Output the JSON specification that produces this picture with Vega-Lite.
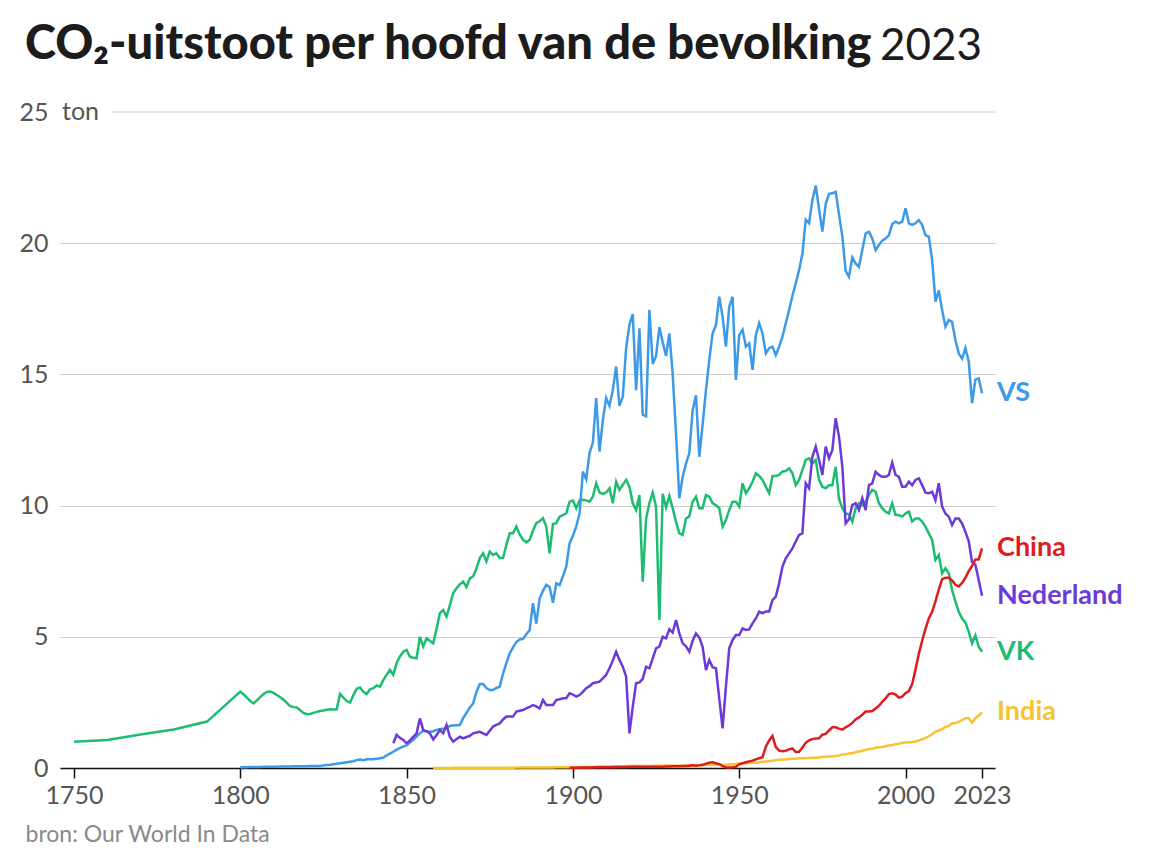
{
  "$schema": "https://vega.github.io/schema/vega-lite/v6.json",
  "width": 935,
  "height": 656,
  "autosize": "none",
  "padding": {"left": 60, "top": 112, "right": 157, "bottom": 96},
  "background": "white",
  "title": {
    "text": "CO₂-uitstoot per hoofd van de bevolking",
    "anchor": "start",
    "frame": "group",
    "dx": -35,
    "offset": -81,
    "baseline": "alphabetic",
    "font": "Lato",
    "fontSize": 47,
    "fontWeight": 900,
    "color": "#1c1c1c"
  },
  "config": {
    "view": {"stroke": null},
    "font": "Lato"
  },
  "datasets": {
    "emissies": [
      {"j":1750,"VK":1.0},
      {"j":1760,"VK":1.07},
      {"j":1770,"VK":1.28},
      {"j":1780,"VK":1.47},
      {"j":1790,"VK":1.77},
      {"j":1800,"VK":2.91,"VS":0.03},
      {"j":1801,"VK":2.80,"VS":0.03},
      {"j":1802,"VK":2.68,"VS":0.03},
      {"j":1803,"VK":2.55,"VS":0.04},
      {"j":1804,"VK":2.46,"VS":0.04},
      {"j":1805,"VK":2.58,"VS":0.04},
      {"j":1806,"VK":2.70,"VS":0.04},
      {"j":1807,"VK":2.82,"VS":0.05},
      {"j":1808,"VK":2.90,"VS":0.05},
      {"j":1809,"VK":2.91,"VS":0.05},
      {"j":1810,"VK":2.86,"VS":0.05},
      {"j":1811,"VK":2.78,"VS":0.05},
      {"j":1812,"VK":2.70,"VS":0.06},
      {"j":1813,"VK":2.60,"VS":0.06},
      {"j":1814,"VK":2.48,"VS":0.06},
      {"j":1815,"VK":2.36,"VS":0.06},
      {"j":1816,"VK":2.32,"VS":0.07},
      {"j":1817,"VK":2.31,"VS":0.07},
      {"j":1818,"VK":2.20,"VS":0.07},
      {"j":1819,"VK":2.10,"VS":0.07},
      {"j":1820,"VK":2.05,"VS":0.07},
      {"j":1821,"VK":2.06,"VS":0.08},
      {"j":1822,"VK":2.10,"VS":0.08},
      {"j":1823,"VK":2.14,"VS":0.08},
      {"j":1824,"VK":2.17,"VS":0.08},
      {"j":1825,"VK":2.19,"VS":0.10},
      {"j":1826,"VK":2.22,"VS":0.11},
      {"j":1827,"VK":2.24,"VS":0.12},
      {"j":1828,"VK":2.23,"VS":0.14},
      {"j":1829,"VK":2.24,"VS":0.16},
      {"j":1830,"VK":2.82,"VS":0.18},
      {"j":1831,"VK":2.68,"VS":0.20},
      {"j":1832,"VK":2.55,"VS":0.22},
      {"j":1833,"VK":2.49,"VS":0.24},
      {"j":1834,"VK":2.78,"VS":0.26},
      {"j":1835,"VK":3.02,"VS":0.30},
      {"j":1836,"VK":3.07,"VS":0.32},
      {"j":1837,"VK":2.90,"VS":0.30},
      {"j":1838,"VK":2.82,"VS":0.33},
      {"j":1839,"VK":3.00,"VS":0.33},
      {"j":1840,"VK":3.04,"VS":0.33},
      {"j":1841,"VK":3.15,"VS":0.35},
      {"j":1842,"VK":3.10,"VS":0.37},
      {"j":1843,"VK":3.35,"VS":0.40},
      {"j":1844,"VK":3.55,"VS":0.48},
      {"j":1845,"VK":3.74,"VS":0.55},
      {"j":1846,"VK":3.55,"VS":0.62,"Nederland":0.94},
      {"j":1847,"VK":4.00,"VS":0.70,"Nederland":1.26},
      {"j":1848,"VK":4.25,"VS":0.76,"Nederland":1.15},
      {"j":1849,"VK":4.43,"VS":0.82,"Nederland":1.07},
      {"j":1850,"VK":4.50,"VS":0.86,"Nederland":0.94},
      {"j":1851,"VK":4.24,"VS":0.97,"Nederland":1.05},
      {"j":1852,"VK":4.20,"VS":1.07,"Nederland":1.19},
      {"j":1853,"VK":4.18,"VS":1.20,"Nederland":1.32},
      {"j":1854,"VK":5.00,"VS":1.32,"Nederland":1.89},
      {"j":1855,"VK":4.63,"VS":1.42,"Nederland":1.45},
      {"j":1856,"VK":4.94,"VS":1.40,"Nederland":1.40},
      {"j":1857,"VK":4.85,"VS":1.38,"Nederland":1.32},
      {"j":1858,"VK":4.75,"VS":1.40,"Nederland":1.09,"India":0.0},
      {"j":1859,"VK":5.30,"VS":1.45,"Nederland":1.25,"India":0.0},
      {"j":1860,"VK":5.90,"VS":1.48,"Nederland":1.45,"India":0.0},
      {"j":1861,"VK":6.02,"VS":1.50,"Nederland":1.32,"India":0.0},
      {"j":1862,"VK":5.77,"VS":1.52,"Nederland":1.64,"India":0.0},
      {"j":1863,"VK":6.20,"VS":1.60,"Nederland":1.19,"India":0.0},
      {"j":1864,"VK":6.66,"VS":1.62,"Nederland":1.00,"India":0.01},
      {"j":1865,"VK":6.85,"VS":1.63,"Nederland":1.10,"India":0.01},
      {"j":1866,"VK":7.00,"VS":1.64,"Nederland":1.19,"India":0.01},
      {"j":1867,"VK":7.10,"VS":1.90,"Nederland":1.13,"India":0.01},
      {"j":1868,"VK":6.90,"VS":2.10,"Nederland":1.18,"India":0.01},
      {"j":1869,"VK":7.23,"VS":2.30,"Nederland":1.22,"India":0.01},
      {"j":1870,"VK":7.30,"VS":2.46,"Nederland":1.32,"India":0.01},
      {"j":1871,"VK":7.60,"VS":2.90,"Nederland":1.35,"India":0.01},
      {"j":1872,"VK":8.00,"VS":3.20,"Nederland":1.38,"India":0.01},
      {"j":1873,"VK":8.18,"VS":3.20,"Nederland":1.32,"India":0.01},
      {"j":1874,"VK":7.87,"VS":3.05,"Nederland":1.26,"India":0.01},
      {"j":1875,"VK":8.25,"VS":2.97,"Nederland":1.42,"India":0.01},
      {"j":1876,"VK":8.12,"VS":2.97,"Nederland":1.58,"India":0.01},
      {"j":1877,"VK":8.18,"VS":3.05,"Nederland":1.64,"India":0.01},
      {"j":1878,"VK":8.00,"VS":3.10,"Nederland":1.70,"India":0.01},
      {"j":1879,"VK":8.00,"VS":3.60,"Nederland":1.85,"India":0.01},
      {"j":1880,"VK":8.50,"VS":4.00,"Nederland":1.96,"India":0.01},
      {"j":1881,"VK":8.95,"VS":4.37,"Nederland":1.96,"India":0.01},
      {"j":1882,"VK":8.95,"VS":4.60,"Nederland":1.96,"India":0.01},
      {"j":1883,"VK":9.20,"VS":4.80,"Nederland":2.15,"India":0.02},
      {"j":1884,"VK":8.90,"VS":4.90,"Nederland":2.18,"India":0.02},
      {"j":1885,"VK":8.70,"VS":4.92,"Nederland":2.21,"India":0.02},
      {"j":1886,"VK":8.60,"VS":5.10,"Nederland":2.27,"India":0.02},
      {"j":1887,"VK":8.70,"VS":5.26,"Nederland":2.33,"India":0.02},
      {"j":1888,"VK":9.05,"VS":6.28,"Nederland":2.40,"India":0.02},
      {"j":1889,"VK":9.33,"VS":5.50,"Nederland":2.35,"India":0.02},
      {"j":1890,"VK":9.40,"VS":6.47,"Nederland":2.27,"India":0.02},
      {"j":1891,"VK":9.52,"VS":6.75,"Nederland":2.59,"India":0.02},
      {"j":1892,"VK":9.20,"VS":6.98,"Nederland":2.40,"India":0.02},
      {"j":1893,"VK":8.18,"VS":6.90,"Nederland":2.40,"India":0.02},
      {"j":1894,"VK":9.30,"VS":6.30,"Nederland":2.40,"India":0.02},
      {"j":1895,"VK":9.33,"VS":7.04,"Nederland":2.59,"India":0.03},
      {"j":1896,"VK":9.58,"VS":6.97,"Nederland":2.62,"India":0.03},
      {"j":1897,"VK":9.64,"VS":7.30,"Nederland":2.66,"India":0.03},
      {"j":1898,"VK":9.70,"VS":7.67,"Nederland":2.66,"India":0.03},
      {"j":1899,"VK":10.15,"VS":8.56,"Nederland":2.85,"India":0.03,"China":0.01},
      {"j":1900,"VK":10.19,"VS":8.85,"Nederland":2.80,"India":0.03,"China":0.01},
      {"j":1901,"VK":9.90,"VS":9.20,"Nederland":2.72,"India":0.04,"China":0.01},
      {"j":1902,"VK":10.20,"VS":9.70,"Nederland":2.78,"India":0.04,"China":0.02},
      {"j":1903,"VK":10.22,"VS":11.30,"Nederland":2.90,"India":0.04,"China":0.02},
      {"j":1904,"VK":10.20,"VS":11.00,"Nederland":3.04,"India":0.04,"China":0.02},
      {"j":1905,"VK":10.15,"VS":12.00,"Nederland":3.12,"India":0.04,"China":0.02},
      {"j":1906,"VK":10.34,"VS":12.40,"Nederland":3.23,"India":0.05,"China":0.02},
      {"j":1907,"VK":10.85,"VS":14.10,"Nederland":3.26,"India":0.05,"China":0.03},
      {"j":1908,"VK":10.50,"VS":12.06,"Nederland":3.29,"India":0.06,"China":0.03},
      {"j":1909,"VK":10.45,"VS":13.27,"Nederland":3.42,"India":0.06,"China":0.03},
      {"j":1910,"VK":10.50,"VS":14.10,"Nederland":3.55,"India":0.06,"China":0.03},
      {"j":1911,"VK":10.66,"VS":13.80,"Nederland":3.80,"India":0.06,"China":0.03},
      {"j":1912,"VK":10.09,"VS":14.40,"Nederland":4.10,"India":0.07,"China":0.03},
      {"j":1913,"VK":10.91,"VS":15.30,"Nederland":4.43,"India":0.07,"China":0.04},
      {"j":1914,"VK":10.60,"VS":13.80,"Nederland":4.12,"India":0.07,"China":0.04},
      {"j":1915,"VK":10.79,"VS":14.15,"Nederland":3.86,"India":0.07,"China":0.04},
      {"j":1916,"VK":10.98,"VS":16.00,"Nederland":3.48,"India":0.08,"China":0.04},
      {"j":1917,"VK":10.72,"VS":16.90,"Nederland":1.32,"India":0.08,"China":0.05},
      {"j":1918,"VK":10.09,"VS":17.30,"Nederland":2.34,"India":0.09,"China":0.05},
      {"j":1919,"VK":9.83,"VS":14.40,"Nederland":3.23,"India":0.09,"China":0.05},
      {"j":1920,"VK":10.40,"VS":16.76,"Nederland":3.26,"India":0.08,"China":0.05},
      {"j":1921,"VK":7.10,"VS":13.46,"Nederland":3.40,"India":0.08,"China":0.05},
      {"j":1922,"VK":9.50,"VS":13.40,"Nederland":3.86,"India":0.08,"China":0.05},
      {"j":1923,"VK":10.09,"VS":17.46,"Nederland":3.80,"India":0.08,"China":0.05},
      {"j":1924,"VK":10.50,"VS":15.40,"Nederland":4.18,"India":0.09,"China":0.05},
      {"j":1925,"VK":9.96,"VS":15.70,"Nederland":4.56,"India":0.09,"China":0.05},
      {"j":1926,"VK":5.64,"VS":16.80,"Nederland":4.63,"India":0.09,"China":0.05},
      {"j":1927,"VK":10.45,"VS":16.22,"Nederland":5.00,"India":0.09,"China":0.05},
      {"j":1928,"VK":9.93,"VS":15.70,"Nederland":4.94,"India":0.10,"China":0.06},
      {"j":1929,"VK":10.37,"VS":16.56,"Nederland":5.29,"India":0.10,"China":0.06},
      {"j":1930,"VK":9.90,"VS":15.00,"Nederland":5.16,"India":0.10,"China":0.07},
      {"j":1931,"VK":9.38,"VS":12.75,"Nederland":5.64,"India":0.10,"China":0.07},
      {"j":1932,"VK":8.94,"VS":10.28,"Nederland":5.13,"India":0.09,"China":0.07},
      {"j":1933,"VK":8.88,"VS":11.10,"Nederland":4.75,"India":0.09,"China":0.08},
      {"j":1934,"VK":9.51,"VS":11.60,"Nederland":4.64,"India":0.10,"China":0.08},
      {"j":1935,"VK":9.59,"VS":12.00,"Nederland":4.43,"India":0.10,"China":0.09},
      {"j":1936,"VK":10.15,"VS":13.64,"Nederland":4.85,"India":0.10,"China":0.10},
      {"j":1937,"VK":10.34,"VS":14.20,"Nederland":5.13,"India":0.11,"China":0.09},
      {"j":1938,"VK":9.90,"VS":11.86,"Nederland":4.97,"India":0.11,"China":0.10},
      {"j":1939,"VK":9.90,"VS":13.10,"Nederland":4.62,"India":0.11,"China":0.12},
      {"j":1940,"VK":10.40,"VS":14.40,"Nederland":3.73,"India":0.12,"China":0.16},
      {"j":1941,"VK":10.34,"VS":15.55,"Nederland":4.12,"India":0.12,"China":0.20},
      {"j":1942,"VK":10.09,"VS":16.56,"Nederland":3.84,"India":0.12,"China":0.22},
      {"j":1943,"VK":10.02,"VS":16.88,"Nederland":3.80,"India":0.12,"China":0.18},
      {"j":1944,"VK":9.90,"VS":17.96,"Nederland":2.65,"India":0.12,"China":0.15},
      {"j":1945,"VK":9.20,"VS":17.20,"Nederland":1.51,"India":0.12,"China":0.07},
      {"j":1946,"VK":9.45,"VS":16.06,"Nederland":3.10,"India":0.12,"China":0.03},
      {"j":1947,"VK":9.83,"VS":17.58,"Nederland":4.56,"India":0.13,"China":0.02},
      {"j":1948,"VK":10.15,"VS":17.96,"Nederland":4.88,"India":0.14,"China":0.03},
      {"j":1949,"VK":10.15,"VS":14.79,"Nederland":5.07,"India":0.15,"China":0.05},
      {"j":1950,"VK":9.96,"VS":16.50,"Nederland":5.07,"India":0.17,"China":0.14},
      {"j":1951,"VK":10.85,"VS":16.70,"Nederland":5.32,"India":0.18,"China":0.18},
      {"j":1952,"VK":10.47,"VS":16.06,"Nederland":5.26,"India":0.18,"China":0.22},
      {"j":1953,"VK":10.66,"VS":16.18,"Nederland":5.28,"India":0.19,"China":0.25},
      {"j":1954,"VK":10.91,"VS":15.17,"Nederland":5.51,"India":0.20,"China":0.28},
      {"j":1955,"VK":11.23,"VS":16.50,"Nederland":5.70,"India":0.21,"China":0.33},
      {"j":1956,"VK":11.13,"VS":16.95,"Nederland":5.96,"India":0.22,"China":0.37},
      {"j":1957,"VK":10.98,"VS":16.56,"Nederland":5.90,"India":0.24,"China":0.41},
      {"j":1958,"VK":10.72,"VS":15.80,"Nederland":5.96,"India":0.25,"China":0.81},
      {"j":1959,"VK":10.47,"VS":16.00,"Nederland":5.96,"India":0.27,"China":1.05},
      {"j":1960,"VK":11.13,"VS":16.06,"Nederland":6.40,"India":0.28,"China":1.22},
      {"j":1961,"VK":11.13,"VS":15.74,"Nederland":6.53,"India":0.30,"China":0.80},
      {"j":1962,"VK":11.17,"VS":16.06,"Nederland":7.04,"India":0.31,"China":0.66},
      {"j":1963,"VK":11.30,"VS":16.44,"Nederland":7.67,"India":0.32,"China":0.64},
      {"j":1964,"VK":11.32,"VS":16.95,"Nederland":7.99,"India":0.32,"China":0.66},
      {"j":1965,"VK":11.42,"VS":17.45,"Nederland":8.18,"India":0.34,"China":0.71},
      {"j":1966,"VK":11.23,"VS":18.00,"Nederland":8.37,"India":0.35,"China":0.75},
      {"j":1967,"VK":10.78,"VS":18.47,"Nederland":8.63,"India":0.35,"China":0.61},
      {"j":1968,"VK":10.98,"VS":18.98,"Nederland":8.88,"India":0.37,"China":0.62},
      {"j":1969,"VK":11.36,"VS":19.60,"Nederland":8.94,"India":0.37,"China":0.78},
      {"j":1970,"VK":11.74,"VS":20.90,"Nederland":10.85,"India":0.37,"China":0.96},
      {"j":1971,"VK":11.80,"VS":20.76,"Nederland":10.66,"India":0.38,"China":1.05},
      {"j":1972,"VK":11.60,"VS":21.65,"Nederland":11.86,"India":0.39,"China":1.10},
      {"j":1973,"VK":11.74,"VS":22.20,"Nederland":12.25,"India":0.39,"China":1.12},
      {"j":1974,"VK":10.98,"VS":21.30,"Nederland":11.74,"India":0.40,"China":1.13},
      {"j":1975,"VK":10.72,"VS":20.44,"Nederland":11.17,"India":0.42,"China":1.27},
      {"j":1976,"VK":10.66,"VS":21.50,"Nederland":12.25,"India":0.43,"China":1.30},
      {"j":1977,"VK":10.78,"VS":21.88,"Nederland":11.80,"India":0.44,"China":1.43},
      {"j":1978,"VK":10.78,"VS":21.90,"Nederland":12.12,"India":0.44,"China":1.55},
      {"j":1979,"VK":11.48,"VS":21.96,"Nederland":13.33,"India":0.47,"China":1.55},
      {"j":1980,"VK":10.25,"VS":21.10,"Nederland":12.63,"India":0.48,"China":1.50},
      {"j":1981,"VK":9.90,"VS":20.25,"Nederland":11.50,"India":0.51,"China":1.46},
      {"j":1982,"VK":9.70,"VS":18.95,"Nederland":9.32,"India":0.52,"China":1.55},
      {"j":1983,"VK":9.67,"VS":18.72,"Nederland":9.48,"India":0.55,"China":1.62},
      {"j":1984,"VK":9.39,"VS":19.46,"Nederland":10.02,"India":0.57,"China":1.72},
      {"j":1985,"VK":9.90,"VS":19.23,"Nederland":10.09,"India":0.60,"China":1.85},
      {"j":1986,"VK":10.09,"VS":19.10,"Nederland":9.83,"India":0.63,"China":1.93},
      {"j":1987,"VK":10.02,"VS":19.74,"Nederland":10.28,"India":0.66,"China":2.03},
      {"j":1988,"VK":10.15,"VS":20.37,"Nederland":9.83,"India":0.69,"China":2.15},
      {"j":1989,"VK":10.40,"VS":20.44,"Nederland":10.78,"India":0.72,"China":2.15},
      {"j":1990,"VK":10.60,"VS":20.18,"Nederland":10.85,"India":0.73,"China":2.17},
      {"j":1991,"VK":10.53,"VS":19.74,"Nederland":11.29,"India":0.77,"China":2.27},
      {"j":1992,"VK":10.09,"VS":19.93,"Nederland":11.17,"India":0.79,"China":2.37},
      {"j":1993,"VK":9.90,"VS":20.10,"Nederland":11.10,"India":0.80,"China":2.52},
      {"j":1994,"VK":9.77,"VS":20.18,"Nederland":11.10,"India":0.83,"China":2.65},
      {"j":1995,"VK":9.70,"VS":20.30,"Nederland":11.17,"India":0.86,"China":2.82},
      {"j":1996,"VK":10.09,"VS":20.73,"Nederland":11.64,"India":0.88,"China":2.85},
      {"j":1997,"VK":9.64,"VS":20.82,"Nederland":11.17,"India":0.91,"China":2.80},
      {"j":1998,"VK":9.64,"VS":20.76,"Nederland":11.10,"India":0.92,"China":2.68},
      {"j":1999,"VK":9.58,"VS":20.82,"Nederland":10.72,"India":0.96,"China":2.72},
      {"j":2000,"VK":9.70,"VS":21.33,"Nederland":10.72,"India":0.97,"China":2.85},
      {"j":2001,"VK":9.77,"VS":20.76,"Nederland":10.91,"India":0.97,"China":2.93},
      {"j":2002,"VK":9.39,"VS":20.70,"Nederland":10.78,"India":0.99,"China":3.20},
      {"j":2003,"VK":9.51,"VS":20.76,"Nederland":10.98,"India":1.01,"China":3.75},
      {"j":2004,"VK":9.51,"VS":20.88,"Nederland":11.04,"India":1.05,"China":4.35},
      {"j":2005,"VK":9.39,"VS":20.70,"Nederland":10.78,"India":1.09,"China":4.85},
      {"j":2006,"VK":9.20,"VS":20.30,"Nederland":10.49,"India":1.14,"China":5.30},
      {"j":2007,"VK":8.94,"VS":20.25,"Nederland":10.47,"India":1.21,"China":5.70},
      {"j":2008,"VK":8.69,"VS":19.36,"Nederland":10.53,"India":1.29,"China":5.95},
      {"j":2009,"VK":7.93,"VS":17.77,"Nederland":10.21,"India":1.38,"China":6.35},
      {"j":2010,"VK":8.12,"VS":18.20,"Nederland":10.85,"India":1.43,"China":6.80},
      {"j":2011,"VK":7.42,"VS":17.45,"Nederland":9.96,"India":1.48,"China":7.20},
      {"j":2012,"VK":7.61,"VS":16.82,"Nederland":9.70,"India":1.57,"China":7.25},
      {"j":2013,"VK":7.42,"VS":17.07,"Nederland":9.58,"India":1.60,"China":7.25},
      {"j":2014,"VK":6.78,"VS":17.00,"Nederland":9.26,"India":1.70,"China":7.15},
      {"j":2015,"VK":6.35,"VS":16.30,"Nederland":9.51,"India":1.72,"China":6.98},
      {"j":2016,"VK":5.95,"VS":15.80,"Nederland":9.51,"India":1.76,"China":6.92},
      {"j":2017,"VK":5.70,"VS":15.60,"Nederland":9.32,"India":1.82,"China":7.05},
      {"j":2018,"VK":5.55,"VS":16.00,"Nederland":9.00,"India":1.90,"China":7.25},
      {"j":2019,"VK":5.20,"VS":15.50,"Nederland":8.65,"India":1.90,"China":7.50},
      {"j":2020,"VK":4.75,"VS":13.90,"Nederland":7.85,"India":1.73,"China":7.70},
      {"j":2021,"VK":5.05,"VS":14.80,"Nederland":7.75,"India":1.90,"China":7.95},
      {"j":2022,"VK":4.62,"VS":14.85,"Nederland":7.16,"India":2.00,"China":7.95},
      {"j":2023,"VK":4.43,"VS":14.28,"Nederland":6.56,"India":2.12,"China":8.37}
    ]
  },
  "layer": [
    {
      "data": {"name": "emissies"},
      "transform": [
        {"fold": ["VK", "VS", "Nederland", "China", "India"], "as": ["land", "waarde"]},
        {"filter": "datum.waarde != null"}
      ],
      "layer": [
        {
          "mark": {"type": "line", "strokeWidth": 2.5, "interpolate": "linear"},
          "encoding": {
            "x": {
              "field": "j", "type": "quantitative",
              "scale": {"domain": [1745.8, 2026.9], "nice": false, "zero": false},
              "axis": {
                "values": [1750, 1800, 1850, 1900, 1950, 2000, 2023],
                "format": "d",
                "grid": false,
                "domainColor": "#111111",
                "domainWidth": 1.5,
                "tickColor": "#111111",
                "tickWidth": 1.5,
                "tickSize": 10,
                "labelFontSize": 25,
                "labelColor": "#555555",
                "labelPadding": 5,
                "labelFont": "Lato",
                "title": "bron: Our World In Data",
                "titleFont": "Lato",
                "titleFontSize": 23,
                "titleFontWeight": "normal",
                "titleColor": "#8a8a8a",
                "titleAnchor": "start",
                "titleAlign": "left",
                "titleBaseline": "alphabetic",
                "titleX": -35,
                "titleY": 73
              }
            },
            "y": {
              "field": "waarde", "type": "quantitative",
              "scale": {"domain": [0, 25], "nice": false},
              "axis": {
                "values": [0, 5, 10, 15, 20, 25],
                "domain": false,
                "ticks": false,
                "grid": true,
                "gridColor": {"condition": {"test": "datum.value == 25", "value": "transparent"}, "value": "#cccccc"},
                "gridWidth": 1,
                "labelFontSize": 25,
                "labelColor": "#555555",
                "labelPadding": 12,
                "labelFont": "Lato",
                "title": null
              }
            },
            "color": {
              "field": "land", "type": "nominal",
              "scale": {
                "domain": ["VK", "VS", "Nederland", "China", "India"],
                "range": ["#1dbd71", "#3d9ae8", "#6b3ad8", "#de1c1c", "#f7c32e"]
              },
              "legend": null
            }
          }
        },
        {
          "transform": [{"filter": "datum.j == 2023"}],
          "mark": {"type": "text", "align": "left", "baseline": "middle", "dx": 15, "fontSize": 27, "fontWeight": "bold", "font": "Lato"},
          "encoding": {
            "x": {"field": "j", "type": "quantitative"},
            "y": {"field": "waarde", "type": "quantitative"},
            "text": {"field": "land"},
            "color": {"field": "land", "type": "nominal", "legend": null}
          }
        }
      ]
    },
    {
      "data": {"values": [{"waarde": 25, "j": 1761.5, "j2": 2026.9}]},
      "mark": {"type": "rule", "color": "#cccccc", "strokeWidth": 1},
      "encoding": {
        "x": {"field": "j", "type": "quantitative"},
        "x2": {"field": "j2"},
        "y": {"field": "waarde", "type": "quantitative"}
      }
    },
    {
      "data": {"values": [{"t": "ton", "j": 1745.8, "waarde": 25}]},
      "mark": {"type": "text", "align": "left", "baseline": "middle", "dx": 2, "fontSize": 25, "color": "#555555", "font": "Lato"},
      "encoding": {
        "x": {"field": "j", "type": "quantitative"},
        "y": {"field": "waarde", "type": "quantitative"},
        "text": {"field": "t"}
      }
    },
    {
      "data": {"values": [{"t": "2023", "j": 1992.3, "waarde": 27.0}]},
      "mark": {"type": "text", "align": "left", "baseline": "alphabetic", "fontSize": 44, "fontWeight": "normal", "color": "#1c1c1c", "font": "Lato"},
      "encoding": {
        "x": {"field": "j", "type": "quantitative"},
        "y": {"field": "waarde", "type": "quantitative"},
        "text": {"field": "t"}
      }
    }
  ]
}
